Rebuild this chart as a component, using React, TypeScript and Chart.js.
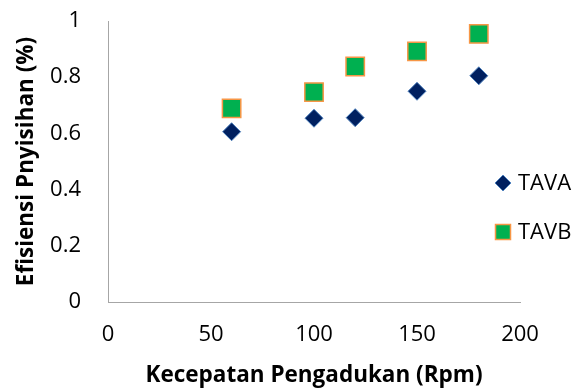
import React, { useEffect, useRef } from "react";
import { Chart, registerables } from "chart.js";

Chart.register(...registerables);

const speedsA = [60, 100, 120, 150, 180];
const valuesA = [0.606, 0.654, 0.656, 0.75, 0.805];
const speedsB = [60, 100, 120, 150, 180];
const valuesB = [0.689, 0.747, 0.838, 0.892, 0.954];
const seriesNames = ["TAVA", "TAVB"];
const xTitle = "Kecepatan Pengadukan (Rpm)";
const yTitle = "Efisiensi Pnyisihan (%)";

const FONT = "'Open Sans', 'Noto Sans', sans-serif";

const legendPlugin = {
  id: "customLegend",
  afterDraw(chart: any) {
    const ctx = chart.ctx;
    const x = 503;
    const ys = [183, 232];
    chart.data.datasets.forEach((ds: any, i: number) => {
      const y = ys[i];
      ctx.save();
      ctx.beginPath();
      if (ds.pointStyle === "rectRot") {
        const h = 8;
        ctx.moveTo(x, y - h);
        ctx.lineTo(x + h, y);
        ctx.lineTo(x, y + h);
        ctx.lineTo(x - h, y);
        ctx.closePath();
      } else {
        const h = 7.5;
        ctx.rect(x - h, y - h, 2 * h, 2 * h);
      }
      ctx.fillStyle = ds.backgroundColor;
      ctx.fill();
      ctx.lineWidth = ds.borderWidth;
      ctx.strokeStyle = ds.borderColor;
      ctx.stroke();
      ctx.fillStyle = "#000000";
      ctx.font = `22px ${FONT}`;
      ctx.textAlign = "left";
      ctx.textBaseline = "middle";
      ctx.fillText(ds.label, 518, y + 1);
      ctx.restore();
    });
  },
};

export default function App() {
  const ref = useRef<HTMLCanvasElement | null>(null);

  useEffect(() => {
    if (!ref.current) return;
    const chart = new Chart(ref.current, {
      type: "scatter",
      data: {
        datasets: [
          {
            label: seriesNames[0],
            data: speedsA.map((x, i) => ({ x, y: valuesA[i] })),
            pointStyle: "rectRot",
            pointRadius: 9,
            pointHoverRadius: 9,
            backgroundColor: "#002060",
            borderColor: "#4f81bd",
            borderWidth: 1,
          },
          {
            label: seriesNames[1],
            data: speedsB.map((x, i) => ({ x, y: valuesB[i] })),
            pointStyle: "rect",
            pointRadius: 13,
            pointHoverRadius: 13,
            backgroundColor: "#00b050",
            borderColor: "#f79646",
            borderWidth: 1.5,
          },
        ],
      },
      options: {
        responsive: false,
        animation: false,
        devicePixelRatio: 1,
        layout: { padding: { left: 0, right: 56, top: 21, bottom: 0 } },
        plugins: {
          legend: { display: false },
          tooltip: { enabled: false },
        },
        scales: {
          x: {
            type: "linear",
            min: 0,
            max: 200,
            ticks: {
              stepSize: 50,
              padding: 20,
              color: "#000000",
              font: { family: FONT, size: 22 },
            },
            grid: { display: false, drawTicks: false },
            border: { display: true, color: "#a6a6a6", width: 1 },
            title: {
              display: true,
              text: xTitle,
              color: "#000000",
              font: { family: FONT, size: 22.5, weight: "bold" },
              padding: { top: 0, bottom: 0 },
            },
            afterFit(scale: any) {
              scale.height = 87;
              scale.paddingLeft = 0;
              scale.paddingRight = 0;
            },
          },
          y: {
            type: "linear",
            min: 0,
            max: 1,
            ticks: {
              stepSize: 0.2,
              padding: 27,
              color: "#000000",
              font: { family: FONT, size: 22 },
              callback: (v: any) => String(Math.round(Number(v) * 10) / 10),
            },
            grid: { display: false, drawTicks: false },
            border: { display: true, color: "#a6a6a6", width: 1 },
            title: {
              display: true,
              text: yTitle,
              color: "#000000",
              font: { family: FONT, size: 22.5, weight: "bold" },
              padding: { top: 13, bottom: 0 },
            },
            afterFit(scale: any) {
              scale.width = 108;
              scale.paddingTop = 0;
              scale.paddingBottom = 0;
            },
          },
        },
      },
      plugins: [legendPlugin],
    } as any);
    return () => chart.destroy();
  }, []);

  return (
    <div
      style={{
        position: "fixed",
        left: 0,
        top: 0,
        width: 576,
        height: 389,
        background: "#ffffff",
      }}
    >
      <canvas ref={ref} width={576} height={389} style={{ width: 576, height: 389 }} />
    </div>
  );
}
